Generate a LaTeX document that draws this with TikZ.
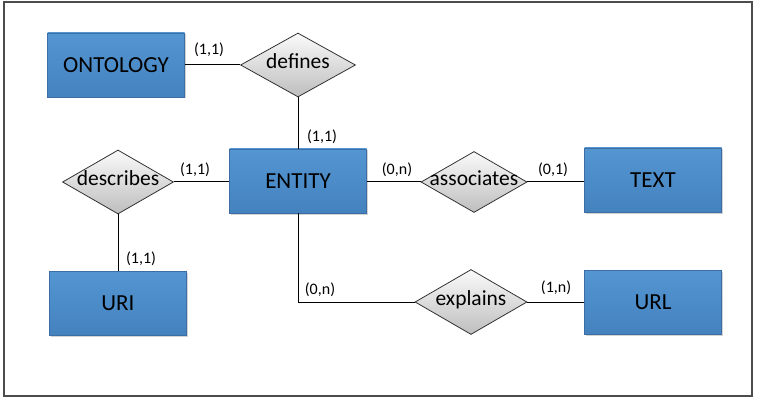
\documentclass[tikz,border=0pt]{standalone}
\usepackage{fontspec}
\setmainfont{Carlito}
\usetikzlibrary{shapes.geometric,shadows}
\definecolor{entfill}{RGB}{84,150,210}
\definecolor{entfilldark}{RGB}{68,130,190}
\definecolor{entedge}{RGB}{60,110,165}
\definecolor{relfilltop}{RGB}{250,250,250}
\definecolor{relfillbot}{RGB}{190,190,190}
\definecolor{reledge}{RGB}{50,50,50}
\tikzset{
  entity/.style={rectangle, draw=entedge, line width=0.6pt,
    top color=entfill, bottom color=entfilldark,
    minimum width=137pt, minimum height=64pt, inner sep=0pt,
    font=\fontsize{23}{25}\selectfont, text=black,
    drop shadow={shadow xshift=1.5pt, shadow yshift=-1.5pt, opacity=0.35}},
  relation/.style={diamond, draw=reledge, line width=0.8pt,
    top color=relfilltop, bottom color=relfillbot,
    inner sep=0pt, text height=1.6ex, text depth=0pt,
    font=\fontsize{21.5}{23}\selectfont, text=black},
  link/.style={draw=black, line width=1pt},
  card/.style={font=\fontsize{16}{18}\selectfont, text=black, inner sep=0pt}
}
% label text that does not widen its diamond
\newcommand{\reltext}[1]{\makebox[0pt]{#1}}
\begin{document}
\begin{tikzpicture}[x=1pt,y=-1pt]
  \useasboundingbox (0,0) rectangle (757,398);
  \draw[draw=black!70, line width=1.2pt] (4,2) rectangle (752,396);

  % entities
  \node[entity] (ontology) at (116,65) {ONTOLOGY};
  \node[entity] (entity) at (298,181) {ENTITY};
  \node[entity] (uri) at (118,303) {URI};
  \node[entity] (text) at (653,180) {TEXT};
  \node[entity] (url) at (653,302) {URL};

  % relationships
  \node[relation, minimum width=115pt, minimum height=64pt] (defines) at (298,65) {\reltext{defines}};
  \node[relation, minimum width=111pt, minimum height=64pt] (describes) at (118,182) {\reltext{describes}};
  \node[relation, minimum width=106pt, minimum height=61pt] (associates) at (474,182) {\reltext{associates}};
  \node[relation, minimum width=112pt, minimum height=65pt] (explains) at (471,302) {\reltext{explains}};

  % connectors
  \draw[link] (ontology.east) -- (defines.west);
  \draw[link] (defines.south) -- (entity.north);
  \draw[link] (describes.east) -- (describes.east -| entity.west);
  \draw[link] (describes.south) -- (uri.north);
  \draw[link] (entity.east |- associates.west) -- (associates.west);
  \draw[link] (associates.east) -- (associates.east -| text.west);
  \draw[link] (entity.south) |- (explains.west);
  \draw[link] (explains.east) -- (url.west);

  % cardinalities
  \node[card] (c1) at (209,50) {(1,1)};
  \node[card] (c2) at (322,137) {(1,1)};
  \node[card] (c3) at (195,170) {(1,1)};
  \node[card] (c4) at (141,259) {(1,1)};
  \node[card] (c5) at (397,170) {(0,n)};
  \node[card] (c6) at (553,170) {(0,1)};
  \node[card] (c7) at (320,290) {(0,n)};
  \node[card] (c8) at (556,288) {(1,n)};
\end{tikzpicture}
\end{document}
